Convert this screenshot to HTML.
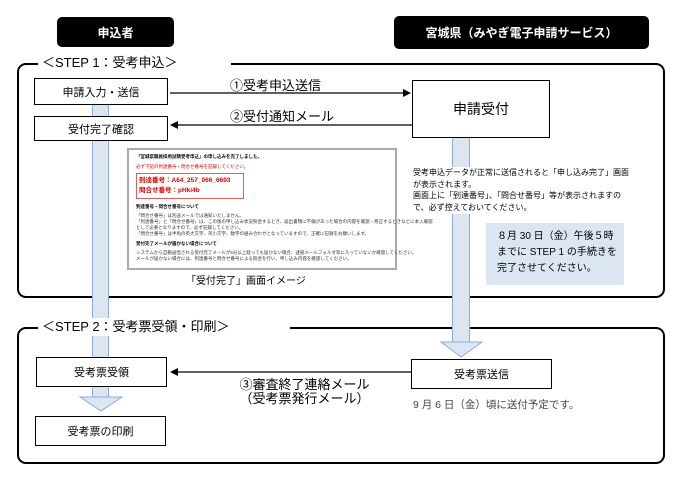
<!DOCTYPE html>
<html><head><meta charset="utf-8"><style>
*{margin:0;padding:0;box-sizing:border-box}
body{width:682px;height:479px;background:#fff;position:relative;overflow:hidden;font-family:"Liberation Sans","Noto Sans CJK JP",sans-serif;color:#000}
.a{position:absolute}
.hd{background:#000;color:#fff;border-radius:5px;font-weight:bold;font-size:12px;display:flex;align-items:center;justify-content:center}
.frame{border:2px solid #000;border-radius:9px}
.box{background:#fff;border:1.3px solid #000;font-size:11px;display:flex;align-items:center;justify-content:center}
.lbl{background:#fff;font-size:13px;padding:0 4px;white-space:nowrap;line-height:18px}
.band{background:#dce6f2;border-left:1px solid #8faadc;border-right:1px solid #8faadc}
.s{font-size:4.5px;white-space:nowrap;color:#333}
</style></head><body>
<div class="a hd" style="left:57px;top:17px;width:117px;height:30px">申込者</div>
<div class="a hd" style="left:394px;top:16px;width:255px;height:33px">宮城県（みやぎ電子申請サービス）</div>

<div class="a frame" style="left:17px;top:63px;width:648px;height:235px"></div>
<div class="a frame" style="left:17px;top:327px;width:648px;height:137px"></div>

<div class="a band" style="left:92px;top:104px;width:17px;height:294px"></div>
<svg class="a" style="left:79px;top:396px" width="44" height="17"><polygon points="1,1 43,1 22,15" fill="#dce6f2" stroke="#8faadc"/></svg>
<div class="a band" style="left:452px;top:138px;width:18px;height:204px"></div>
<svg class="a" style="left:440px;top:341px" width="43" height="18"><polygon points="1,1 42,1 21,16" fill="#dce6f2" stroke="#8faadc"/></svg>

<div class="a lbl" style="left:38px;top:54px;width:193px">＜STEP 1：受考申込＞</div>
<div class="a lbl" style="left:38px;top:318px;width:252px">＜STEP 2：受考票受領・印刷＞</div>

<div class="a box" style="left:34px;top:78px;width:134px;height:27px">申請入力・送信</div>
<div class="a box" style="left:34px;top:116px;width:134px;height:25px">受付完了確認</div>
<div class="a box" style="left:412px;top:80px;width:138px;height:58px;font-size:14px">申請受付</div>

<svg class="a" style="left:0;top:0" width="682" height="479">
<line x1="170" y1="93" x2="404" y2="93" stroke="#000" stroke-width="1.2"/><polygon points="411,93 403,89 403,97"/>
<line x1="177" y1="125" x2="412" y2="125" stroke="#000" stroke-width="1.2"/><polygon points="170,125 178,121 178,129"/>
<line x1="177" y1="372" x2="411" y2="372" stroke="#000" stroke-width="1.2"/><polygon points="170,372 178,368 178,376"/>
</svg>
<div class="a" style="left:230px;top:75px;font-size:13px">①受考申込送信</div>
<div class="a" style="left:230px;top:106px;font-size:13px">②受付通知メール</div>

<div class="a" style="left:127px;top:148px;width:270px;height:122px;border:2px solid #aaa;background:#fff;padding:4px 7px">
<div class="s" style="font-weight:bold;color:#000">「宮城県職員採用試験受考申込」の申し込みを完了しました。</div>
<div class="s" style="color:#d00;margin-top:4px">必ず下記の到達番号・問合せ番号を記録してください。</div>
<div style="border:1px solid #e06060;width:108px;margin-top:3px;padding:2px;color:#d00;font-size:6.5px;font-weight:bold;line-height:10px">到達番号：A64_257_066_6693<br>問合せ番号：pHki4b</div>
<div class="s" style="margin-top:5px;color:#000;font-weight:bold">到達番号・問合せ番号について</div>
<div class="s" style="margin-top:3px;line-height:6px">「問合せ番号」は別途メールでは通知いたしません。<br>「到達番号」と「問合せ番号」は、この後の申し込み状況照会するとき、届出書類に不備があった場合の内容を確認・修正するときなどに本人確認<br>として必要となりますので、必ず記録してください。<br>「問合せ番号」は半角の英大文字、英小文字、数字の組み合わせとなっていますので、正確に記録をお願いします。</div>
<div class="s" style="margin-top:4px;color:#000;font-weight:bold">受付完了メールが届かない場合について</div>
<div class="s" style="margin-top:3px;line-height:6px">システムから自動送信される受付完了メールが5分以上経っても届かない場合、迷惑メールフォルダ等に入っていないか確認してください。<br>メールが届かない場合には、到達番号と問合せ番号による照会を行い、申し込み内容を確認してください。</div>
</div>
<div class="a" style="left:186px;top:272px;font-size:10px">「受付完了」画面イメージ</div>

<div class="a" style="left:413px;top:167px;font-size:8px;line-height:11.7px;width:245px;background:#fff">受考申込データが正常に送信されると「申し込み完了」画面<br>が表示されます。<br>画面上に「到達番号」、「問合せ番号」等が表示されますの<br>で、必ず控えておいてください。</div>
<div class="a" style="left:486px;top:223px;width:138px;height:62px;background:#dce6f2;font-size:10px;line-height:16px;padding:6px 0 0 11px">８月 30 日（金）午後５時<br>までに STEP 1 の手続きを<br>完了させてください。</div>

<div class="a box" style="left:36px;top:357px;width:131px;height:30px">受考票受領</div>
<div class="a box" style="left:35px;top:416px;width:131px;height:30px">受考票の印刷</div>
<div class="a box" style="left:411px;top:359px;width:141px;height:30px">受考票送信</div>
<div class="a" style="left:222px;top:378px;font-size:13px;line-height:14px;text-align:center;width:165px">③審査終了連絡メール<br>（受考票発行メール）</div>
<div class="a" style="left:413px;top:397px;font-size:10.5px;color:#444">9 月 6 日（金）頃に送付予定です。</div>
</body></html>
